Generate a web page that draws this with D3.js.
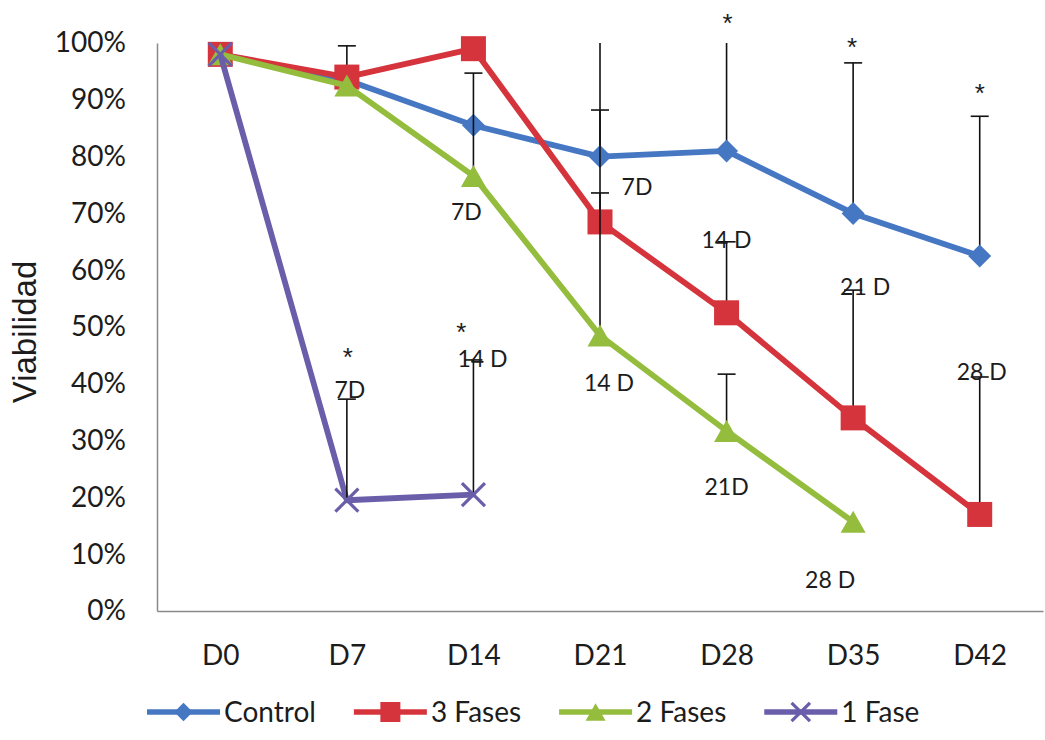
<!DOCTYPE html>
<html>
<head>
<meta charset="utf-8">
<script src="https://cdn.jsdelivr.net/npm/d3@7/dist/d3.min.js"></script>
<style>
  html, body { margin: 0; padding: 0; background: #ffffff; }
  svg { display: block; }
  text { font-family: Lato, "Open Sans", "Liberation Sans", sans-serif; fill: #1c1c1c; }
</style>
</head>
<body>
<svg id="chart" width="1045" height="740"></svg>
<script>
// Sampling days on the horizontal axis
const categories = ["D0", "D7", "D14", "D21", "D28", "D35", "D42"];

// Viability (%) per group; null where the group was no longer measured
const controlValues = [98, 93.5, 85.5, 80, 81, 70, 62.5];
const fases3Values  = [98, 94, 99, 68.5, 52.5, 34, 17];
const fases2Values  = [98, 92.5, 76.6, 48.5, 31.7, 15.7, null];
const fase1Values   = [98, 19.5, 20.5, null, null, null, null];

// Positive error amounts (%) for each group
const controlErrors = [null, 6, null, 26, 32, 26.5, 24.6];
const fases3Errors  = [null, null, null, 19.7, 12.5, 22.5, 24.2];
const fases2Errors  = [null, null, 18.1, 25.1, 10, null, null];
const fase1Errors   = [null, 17.8, 23.7, null, null, null, null];

const seriesNames = ["Control", "3 Fases", "2 Fases", "1 Fase"];
const yTicks = [0, 10, 20, 30, 40, 50, 60, 70, 80, 90, 100];

// Day annotations placed beside the points (category, viability %)
const noteTexts      = ["7D", "7D", "14 D", "21 D", "28 D", "14 D", "21D", "28 D", "7D", "14 D"];
const noteCategories = ["D14", "D21", "D28", "D35", "D42", "D21", "D28", "D35", "D7", "D14"];
const noteValues     = [70.2, 74.6, 65.3, 57, 42.1, 40.1, 21.8, 5.5, 38.9, 44.4];

// Significance marks (category, viability %)
const starCategories = ["D7", "D14", "D28", "D35", "D42"];
const starValues     = [45.8, 50.2, 104.6, 100.4, 92.3];

// ---- layout and styling ----
const noteShiftX = [-7, 37, 0, 12, 2, 9, 0, -23, 3, 9];
const starShiftX = [1, -12, 1, -1, 0];
const colors = ["#4677c2", "#d5343c", "#94bd3e", "#6a5da9"];
const markerKinds = ["diamond", "square", "triangle", "cross"];

const svg = d3.select("#chart");
const plot = { left: 157, right: 1043, top: 43, bottom: 611 };

const x = d3.scalePoint().domain(categories).range([plot.left, plot.right]).padding(0.5);
const y = d3.scaleLinear().domain([0, 100]).range([plot.bottom, plot.top]);

// Y axis
const yAxis = svg.append("g")
  .attr("transform", `translate(${plot.left},0)`)
  .call(d3.axisLeft(y).tickValues(yTicks).tickSize(0).tickSizeOuter(0).tickPadding(31)
    .tickFormat(d => d + "%"));
yAxis.select(".domain").attr("stroke", "#8a8a8a").attr("stroke-width", 1.5);
yAxis.selectAll("text").attr("font-size", 28).attr("fill", "#1c1c1c")
  .style("font-family", "Lato, 'Open Sans', sans-serif");

// X axis
const xAxis = svg.append("g")
  .attr("transform", `translate(0,${plot.bottom})`)
  .call(d3.axisBottom(x).tickSize(0).tickSizeOuter(0).tickPadding(34));
xAxis.select(".domain").attr("stroke", "#8a8a8a").attr("stroke-width", 1.5);
xAxis.selectAll("text").attr("font-size", 28).attr("fill", "#1c1c1c")
  .style("font-family", "Lato, 'Open Sans', sans-serif");

// Y axis title
svg.append("text")
  .attr("transform", `translate(36,${(plot.top + plot.bottom) / 2 + 5}) rotate(-90)`)
  .attr("text-anchor", "middle")
  .attr("font-size", 33)
  .style("font-family", "'Liberation Sans', Arial, sans-serif")
  .text("Viabilidad");

const allValues = [controlValues, fases3Values, fases2Values, fase1Values];
const allErrors = [controlErrors, fases3Errors, fases2Errors, fase1Errors];

const series = seriesNames.map((name, i) => ({
  name,
  color: colors[i],
  kind: markerKinds[i],
  points: categories.map((c, j) => ({ c, v: allValues[i][j], e: allErrors[i][j] }))
}));

function drawMarker(g, kind, color, cx, cy, scale) {
  const s = scale || 1;
  if (kind === "diamond") {
    const r = 11.5 * s;
    g.append("path")
      .attr("d", `M${cx},${cy - r}L${cx + r},${cy}L${cx},${cy + r}L${cx - r},${cy}Z`)
      .attr("fill", color);
  } else if (kind === "square") {
    const h = 12.5 * s;
    g.append("rect").attr("x", cx - h).attr("y", cy - h)
      .attr("width", 2 * h).attr("height", 2 * h).attr("fill", color);
  } else if (kind === "triangle") {
    const w = 12.5 * s, h = 11 * s;
    g.append("path")
      .attr("d", `M${cx},${cy - h}L${cx + w},${cy + h}L${cx - w},${cy + h}Z`)
      .attr("fill", color);
  } else {
    const r = 11.5 * s;
    g.append("path")
      .attr("d", `M${cx - r},${cy - r}L${cx + r},${cy + r}M${cx - r},${cy + r}L${cx + r},${cy - r}`)
      .attr("stroke", color).attr("stroke-width", 3.2).attr("fill", "none");
  }
}

const line = d3.line()
  .defined(d => d.v != null)
  .x(d => x(d.c))
  .y(d => y(d.v));

// Each group: line, then error bars, then markers
series.forEach(s => {
  const g = svg.append("g");
  g.append("path")
    .datum(s.points)
    .attr("d", line)
    .attr("fill", "none")
    .attr("stroke", s.color)
    .attr("stroke-width", 5.8)
    .attr("stroke-linejoin", "round");

  s.points.filter(p => p.v != null && p.e != null).forEach(p => {
    const top = Math.min(p.v + p.e, 100);
    const cx = x(p.c);
    g.append("line")
      .attr("x1", cx).attr("x2", cx)
      .attr("y1", y(p.v)).attr("y2", y(top))
      .attr("stroke", "#111").attr("stroke-width", 1.6);
    if (p.v + p.e <= 100) {
      g.append("line")
        .attr("x1", cx - 9).attr("x2", cx + 9)
        .attr("y1", y(top)).attr("y2", y(top))
        .attr("stroke", "#111").attr("stroke-width", 1.6);
    }
  });

  s.points.filter(p => p.v != null).forEach(p => {
    drawMarker(g, s.kind, s.color, x(p.c), y(p.v));
  });
});

// Day annotations
noteTexts.forEach((t, i) => {
  svg.append("text")
    .attr("x", x(noteCategories[i]) + noteShiftX[i])
    .attr("y", y(noteValues[i]) + 8)
    .attr("text-anchor", "middle")
    .attr("font-size", 23)
    .text(t);
});

// Significance marks
starCategories.forEach((c, i) => {
  svg.append("text")
    .attr("x", x(c) + starShiftX[i])
    .attr("y", y(starValues[i]) + 15)
    .attr("text-anchor", "middle")
    .attr("font-size", 26)
    .style("font-family", "'Liberation Sans', Arial, sans-serif")
    .text("*");
});

// Legend
const legend = svg.append("g").attr("transform", "translate(147,712)");
let lx = 0;
series.forEach(s => {
  const item = legend.append("g").attr("transform", `translate(${lx},0)`);
  item.append("line").attr("x1", 0).attr("x2", 73).attr("y1", 0).attr("y2", 0)
    .attr("stroke", s.color).attr("stroke-width", 5.5);
  drawMarker(item, s.kind, s.color, 36.5, 0, 0.8);
  const label = item.append("text")
    .attr("x", 77).attr("y", 10)
    .attr("font-size", 28)
    .text(s.name);
  lx += 77 + label.node().getComputedTextLength() + 38;
});
</script>
</body>
</html>
